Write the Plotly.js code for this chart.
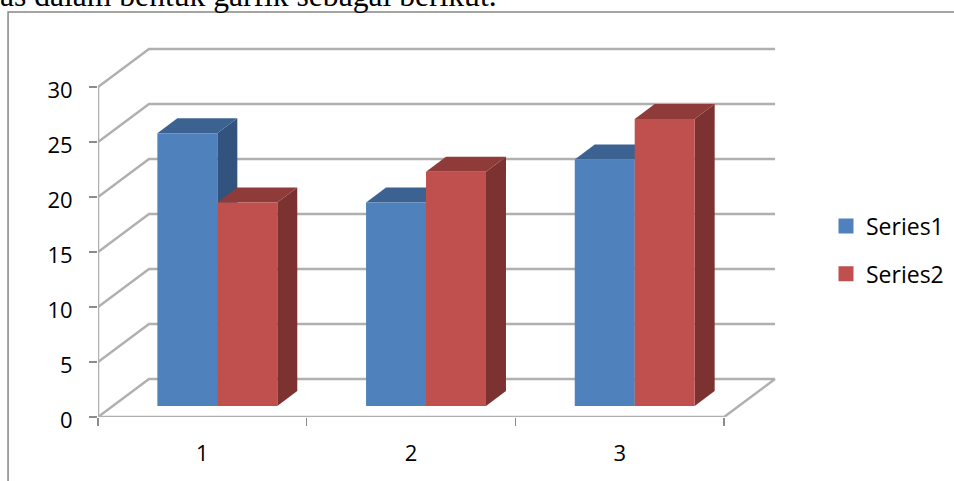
<!DOCTYPE html>
<html><head><meta charset="utf-8">
<script src="https://cdn.plot.ly/plotly-3.0.1.min.js"></script>
<style>html,body{margin:0;padding:0;background:#fff}#c{width:954px;height:481px}</style>
</head><body><div id="c"></div>
<script>
const categories = [1, 2, 3];
const series1 = [24.8, 18.5, 22.4];
const series2 = [18.5, 21.3, 26.1];
const yTicks = [0, 5, 10, 15, 20, 25, 30];
const seriesNames = ['Series1', 'Series2'];
const captionText = 'as dalam bentuk garfik sebagai berikut.';

const W = 954, H = 481;
const L = 97.5, B = 417, R = 834, T = 30;
const pxX = 208.83, pxY = 11;
const xMin = 0.5, xEnd = 3.5;
const plotPx = R - L;
const xMax = xMin + plotPx / pxX, yMax = (B - T) / pxY;
const backDX = 51 / pxX, backDY = 38 / pxY;
const barDX = 20 / pxX, barDY = 15 / pxY;
const barBase = 1, barW = 60 / pxX;
const inset = 1.5;
const offsets = [-45 / pxX, 15 / pxX];
const front = ['#4F81BD', '#C0504D'];
const side = ['#31537E', '#7B3230'];
const top_ = ['#3C6291', '#8F3B39'];
const gridColor = '#B0B0B0';

const traces = [];
const hidden = {hoverinfo: 'skip', showlegend: false, cliponaxis: false};
const gx = [], gy = [];
yTicks.forEach(v => {
  gx.push(xMin, xMin + backDX, xEnd + backDX, null);
  gy.push(v, v + backDY, v + backDY, null);
});
traces.push(Object.assign({type: 'scatter', mode: 'lines', x: gx, y: gy,
  line: {color: gridColor, width: 2.5}}, hidden));
traces.push(Object.assign({type: 'scatter', mode: 'lines',
  x: [xMin, xMin, null, xMin, xEnd, xEnd + backDX],
  y: [yTicks[yTicks.length - 1], 0, null, 0, 0, backDY],
  line: {color: gridColor, width: 2.5}}, hidden));
[series1, series2].forEach((vals, s) => {
  vals.forEach((v, i) => {
    const x0 = categories[i] + offsets[s], x1 = x0 + barW, top = barBase + v;
    traces.push(Object.assign({type: 'scatter', mode: 'lines', fill: 'toself',
      x: [x1, x1 + barDX, x1 + barDX, x1, x1],
      y: [barBase, barBase + barDY, top + barDY, top, barBase],
      fillcolor: side[s], line: {width: 0, color: side[s]}}, hidden));
    traces.push(Object.assign({type: 'scatter', mode: 'lines', fill: 'toself',
      x: [x0, x0 + barDX, x1 + barDX, x1, x0],
      y: [top, top + barDY, top + barDY, top, top],
      fillcolor: top_[s], line: {width: 0, color: top_[s]}}, hidden));
  });
});
[series1, series2].forEach((vals, s) => {
  traces.push({type: 'bar', name: seriesNames[s], x: categories,
    y: vals.map(v => v - 2 * inset / pxY),
    base: barBase + inset / pxY,
    width: barW - 2 * inset / pxX, offset: offsets[s] + inset / pxX,
    xaxis: 'x2', yaxis: 'y2', legendgroup: 'g' + s, hoverinfo: 'skip',
    marker: {color: front[s], line: {color: front[s], width: 3}}});
});

const pw = plotPx, ph = B - T;
const layout = {
  width: W, height: H, paper_bgcolor: '#fff', plot_bgcolor: 'rgba(0,0,0,0)',
  margin: {l: L, r: W - R, t: T, b: H - B, pad: 0},
  barmode: 'overlay', showlegend: true,
  font: {family: '"Open Sans", sans-serif', size: 22, color: '#000'},
  xaxis: {range: [xMin, xMax], tickmode: 'array', tickvals: categories,
    ticktext: categories.map(String), ticks: '', showgrid: false, zeroline: false,
    showline: false, ticklabelstandoff: 21,
    minor: {tickmode: 'array', tickvals: [0.5, 1.5, 2.5, 3.5], ticks: 'outside', ticklen: 8,
      tickwidth: 1.5, tickcolor: '#8C8C8C', showgrid: false}},
  yaxis: {range: [0, yMax], tickmode: 'array', tickvals: yTicks, ticks: 'outside', ticklen: 8,
    tickwidth: 1.5, tickcolor: '#8C8C8C', showgrid: false, zeroline: false, showline: false,
    ticklabelstandoff: 12, ticklabelshift: 3},
  xaxis2: {overlaying: 'x', range: [xMin, xMax], visible: false},
  yaxis2: {overlaying: 'y', range: [0, yMax], visible: false},
  legend: {xref: 'container', yref: 'container', x: 837 / W, xanchor: 'left', y: 1 - 250 / H, yanchor: 'middle',
    tracegroupgap: 15, indentation: -11, bgcolor: 'rgba(0,0,0,0)', font: {size: 23}, itemwidth: 30,
    itemclick: false, itemdoubleclick: false},
  shapes: [{type: 'path', xref: 'paper', yref: 'paper', layer: 'below',
    path: 'M' + (7.5 - L) / pw + ',' + (B - 490) / ph + ' L' + (7.5 - L) / pw + ',' + (B - 12) / ph +
      ' L' + (960 - L) / pw + ',' + (B - 12) / ph,
    line: {color: '#868686', width: 1.5}}],
  annotations: [{text: captionText, xref: 'paper', yref: 'paper', x: (-3 - L) / pw,
    y: (B - 15) / ph, xanchor: 'left', yanchor: 'bottom', showarrow: false,
    font: {family: '"Liberation Serif", serif', size: 31.6, color: '#000'}}]
};
Plotly.newPlot('c', traces, layout, {displayModeBar: false, staticPlot: true});
</script></body></html>
